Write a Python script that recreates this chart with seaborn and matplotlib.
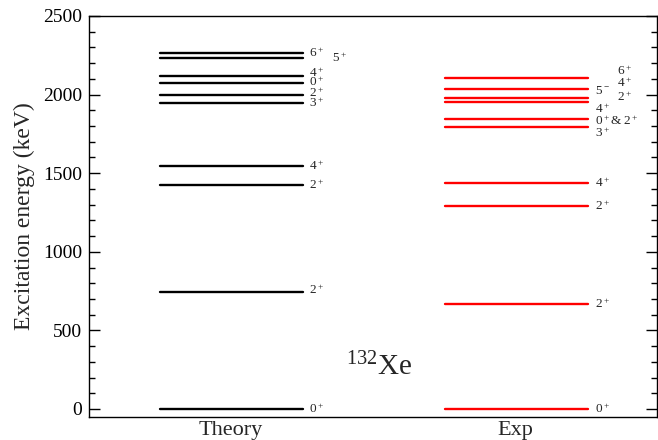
import matplotlib
matplotlib.use("Agg")
import matplotlib.pyplot as plt
from matplotlib.ticker import MultipleLocator
import numpy as np
import pandas as pd
import seaborn as sns

# Level energies (keV) for 132Xe
theory_energy = [0, 746, 1423, 1546, 1945, 1996, 2072, 2116, 2231, 2267]
exp_energy = [0, 666, 1293, 1436, 1796, 1845, 1955, 1976, 2034, 2104]

# Spin-parity labels and the energy of their baselines
theory_labels = ["$0^+$", "$2^+$", "$2^+$", "$4^+$", "$3^+$", "$2^+$", "$0^+$", "$4^+$", "$6^+$"]
theory_label_y = [-25, 732, 1398, 1520, 1919, 1987, 2055, 2114, 2241]
theory_side_labels = ["$5^+$"]
theory_side_label_y = [2205]

exp_labels = ["$0^+$", "$2^+$", "$2^+$", "$4^+$", "$3^+$", "$0^+$& $2^+$", "$4^+$", "$5^-$"]
exp_label_y = [-25, 641, 1266, 1410, 1728, 1807, 1881, 2004]
exp_side_labels = ["$2^+$", "$4^+$", "$6^+$"]
exp_side_label_y = [1961, 2050, 2125]

columns = ["Theory", "Exp"]
column_colors = {"Theory": "black", "Exp": "red"}

# Horizontal extent of each column of levels (axes fraction)
span = {"Theory": (0.125, 0.377), "Exp": (0.627, 0.878)}

rows = []
for col, energies in (("Theory", theory_energy), ("Exp", exp_energy)):
    for i, e in enumerate(energies):
        for x in span[col]:
            rows.append({"column": col, "level": f"{col}-{i}", "x": x, "energy": e})
levels = pd.DataFrame(rows)

sns.set_theme(style="ticks")
plt.rcParams["font.family"] = ["Liberation Serif", "DejaVu Serif"]
plt.rcParams["mathtext.fontset"] = "custom"
plt.rcParams["mathtext.rm"] = "Liberation Serif"
plt.rcParams["mathtext.it"] = "Liberation Serif"

fig = plt.figure(figsize=(6.58, 4.40), dpi=100)
ax = fig.add_axes([89 / 658, 1 - 417 / 440, 568 / 658, 401 / 440])

sns.lineplot(data=levels, x="x", y="energy", hue="column", units="level",
             estimator=None, palette=column_colors, linewidth=1.7,
             legend=False, ax=ax)

ax.set_xlim(0, 1)
ax.set_ylim(-51, 2500)

label_fs = 9.5
for txt, y in zip(theory_labels, theory_label_y):
    ax.text(0.388, y, txt, fontsize=label_fs, va="baseline", ha="left")
for txt, y in zip(theory_side_labels, theory_side_label_y):
    ax.text(0.428, y, txt, fontsize=label_fs, va="baseline", ha="left")
for txt, y in zip(exp_labels, exp_label_y):
    ax.text(0.891, y, txt, fontsize=label_fs, va="baseline", ha="left")
for txt, y in zip(exp_side_labels, exp_side_label_y):
    ax.text(0.929, y, txt, fontsize=label_fs, va="baseline", ha="left")

ax.text(0.453, 215, r"$^{132}$Xe", fontsize=21, va="baseline", ha="left")

ax.set_xticks([0.25, 0.75])
ax.set_xticklabels(columns, fontsize=16)
ax.tick_params(axis="x", length=0, pad=3)

ax.yaxis.set_major_locator(MultipleLocator(500))
ax.yaxis.set_minor_locator(MultipleLocator(100))
ax.tick_params(axis="y", which="both", direction="in", left=True, right=True,
               labelsize=14, width=1, color="black", labelcolor="black", pad=5)
ax.tick_params(axis="y", which="major", length=8)
ax.tick_params(axis="y", which="minor", length=4.5)
ax.set_xlabel("")
ax.set_ylabel("Excitation energy (keV)", fontsize=17, labelpad=6)

for s in ax.spines.values():
    s.set_color("black")
    s.set_linewidth(1.0)

fig.savefig("out.png", dpi=100)
